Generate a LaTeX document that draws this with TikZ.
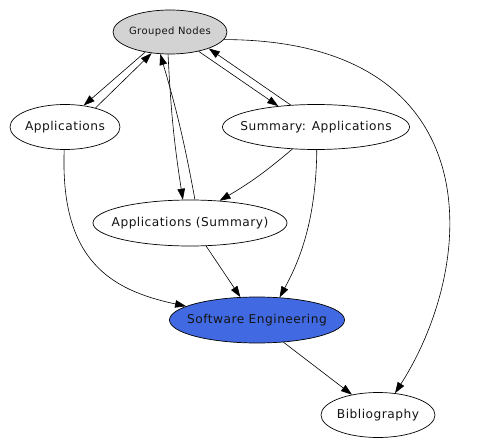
\documentclass[tikz,border=0pt]{standalone}
\usepackage{fontspec}
\setmainfont{DejaVu Sans}[LetterSpace=4]
\usetikzlibrary{shapes.geometric,arrows.meta}
\tikzset{
  nd/.style={ellipse,draw,line width=0.7pt,inner sep=0pt,text={rgb,255:red,20;green,20;blue,20},font=\fontsize{12.2}{14}\selectfont},
  edge/.style={line width=0.6pt,-{Triangle[length=11pt,width=7.5pt]}}
}
\newcommand{\zb}[1]{\makebox[0pt]{#1}}
\begin{document}
\begin{tikzpicture}[x=1pt,y=-1pt]
\useasboundingbox (0,0) rectangle (491,447);
\node[nd,fill={rgb,255:red,211;green,211;blue,211},minimum width=114pt,minimum height=44pt,font=\fontsize{10}{12}\selectfont] (g) at (170,32) {\zb{Grouped Nodes}};
\node[nd,minimum width=110pt,minimum height=45pt] (app) at (65,127) {\zb{Applications}};
\node[nd,minimum width=187pt,minimum height=45pt] (sum) at (316,127) {\zb{Summary: Applications}};
\node[nd,minimum width=194pt,minimum height=46pt] (aps) at (190,223) {\zb{Applications (Summary)}};
\node[nd,fill={rgb,255:red,65;green,105;blue,225},minimum width=175pt,minimum height=46pt] (se) at (257,320) {\zb{Software Engineering}};
\node[nd,minimum width=114pt,minimum height=45pt] (bib) at (378,415) {\zb{Bibliography}};

\draw[edge] (g.219) -- (app.49);
\draw[edge] (app.32) -- (g.229);
\draw[edge] (g.265) to[bend right=3] (aps.107);
\draw[edge] (aps.78) to[bend right=3] (g.246);
\draw[edge] (g.326) -- (sum.151);
\draw[edge] (sum.139) -- (g.337);
\draw[edge] (g.352) .. controls (490,40) and (480,260) .. (bib.52);
\draw[edge] (app.268) .. controls (60,260) and (110,290) .. (se.169);
\draw[edge] (sum.223) to[bend left=5] (aps.37);
\draw[edge] (sum.272) .. controls (316,220) and (300,260) .. (se.45);
\draw[edge] (aps.305) -- (se.126);
\draw[edge] (se.320) -- (bib.142);
\end{tikzpicture}
\end{document}
